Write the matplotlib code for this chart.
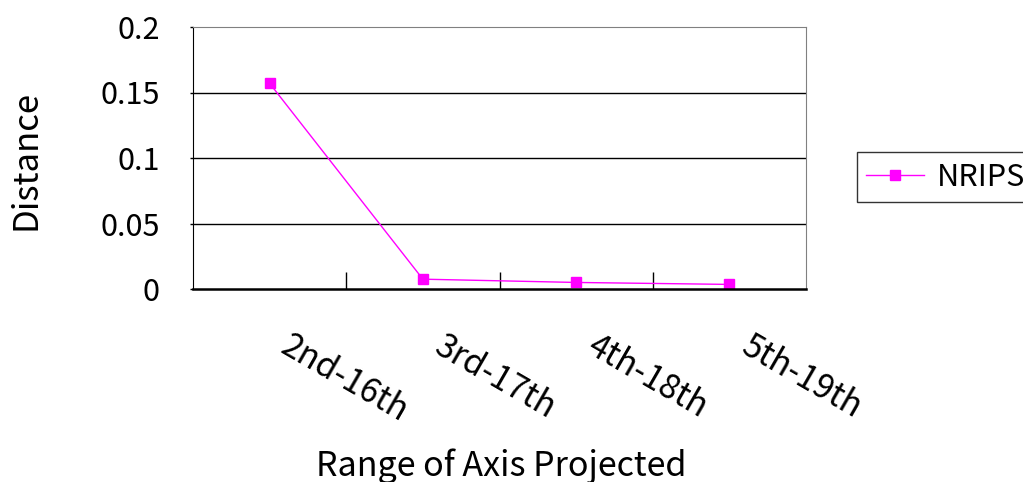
import matplotlib
matplotlib.use("Agg")
import matplotlib.pyplot as plt

plt.rcParams['font.family'] = ['Noto Sans CJK JP', 'DejaVu Sans']

categories = ["2nd-16th", "3rd-17th", "4th-18th", "5th-19th"]
nrips = [0.157, 0.0075, 0.005, 0.0035]
yticks = [0, 0.05, 0.1, 0.15, 0.2]
ytick_labels = ["0", "0.05", "0.1", "0.15", "0.2"]

fig = plt.figure(figsize=(10.23, 4.82), dpi=100)
ax = fig.add_axes([193 / 1023, 1 - 289 / 482, (806 - 193) / 1023, (289 - 27) / 482])

x = range(len(categories))
line, = ax.plot(x, nrips, color="#FF00FF", lw=1.0, marker="s", markersize=7,
                markerfacecolor="#FF00FF", markeredgecolor="#FF00FF", label="NRIPS")

ax.set_xlim(-0.5, len(categories) - 0.5)
ax.set_ylim(0, 0.2)
ax.set_yticks(yticks)
ax.set_yticklabels(ytick_labels, fontsize=22)
ax.tick_params(axis="y", direction="out", length=2, width=1, pad=22)
for v in yticks[1:-1]:
    ax.axhline(v, color="black", lw=1, zorder=0)

# category boundary ticks, pointing into the plot
ax.set_xticks([i + 0.5 for i in range(len(categories) - 1)])
ax.set_xticklabels([])
ax.tick_params(axis="x", direction="in", length=12, width=1)
for i, lab in enumerate(categories):
    ax.text(i + 0.15, -0.03, lab, fontsize=24,
            rotation=-30, ha="left", va="top", rotation_mode="anchor")

ax.spines["left"].set_color("black")
ax.spines["bottom"].set_color("black")
ax.spines["bottom"].set_linewidth(1.8)
ax.spines["top"].set_color("#808080")
ax.spines["right"].set_color("#808080")

fig.text(26 / 1023, 1 - 160 / 482, "Distance", fontsize=25, rotation=90,
         ha="center", va="center")
fig.text(501 / 1023, 1 - 466 / 482, "Range of Axis Projected", fontsize=24.5,
         ha="center", va="center")

fig.legend(handles=[line], loc="center left",
           bbox_to_anchor=(857 / 1023, 1 - 177 / 482), fontsize=22,
           frameon=True, fancybox=False, edgecolor="black",
           handlelength=1.9, handletextpad=0.4, borderpad=0.3, borderaxespad=0)

fig.savefig("out.png", dpi=100)
